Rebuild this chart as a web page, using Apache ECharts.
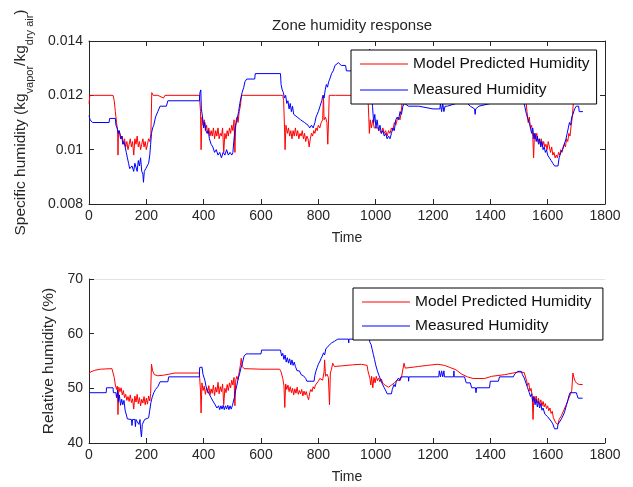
<!DOCTYPE html>
<html>
<head>
<meta charset="utf-8">
<script src="https://cdn.jsdelivr.net/npm/echarts@6/dist/echarts.min.js"></script>
<style>
html, body { margin: 0; padding: 0; background: #fff; }
#chart { width: 633px; height: 487px; }
</style>
</head>
<body>
<div id="chart"></div>
<script>
// specific humidity, model (red)
var shModelT = [0,3,20,84,88,92,96,100,101,103,108,112,116,120,124,128,132,136,140,144,148,152,156,160,164,168,172,176,180,184,188,192,196,200,204,208,212,216,219,224,240,260,265,300,385,389,391,394,398,402,406,410,414,418,422,426,430,434,438,442,446,450,454,458,462,466,470,474,478,482,486,490,494,498,502,506,509,512,516,520,524,528,532,540,600,676,679,682,684,687,692,696,700,704,708,712,716,720,724,728,732,736,740,744,748,752,756,760,764,768,772,776,780,784,788,792,796,800,805,810,815,818,820,825,830,833,836,838,860,970,974,976,978,981,985,990,995,1000,1010,1015,1020,1025,1030,1035,1040,1045,1050,1055,1060,1065,1070,1075,1080,1085,1090,1095,1100,1200,1250,1350,1450,1520,1524,1528,1532,1536,1540,1544,1548,1551,1554,1558,1562,1566,1570,1574,1578,1582,1586,1590,1594,1598,1602,1606,1610,1614,1618,1622,1626,1630,1634,1638,1642,1646,1650,1654,1658,1662,1666,1670,1674,1678,1682,1686,1690,1694,1700];
var shModelV = [0.0117,0.0120,0.0120,0.0120,0.0118,0.0114,0.0110,0.0107,0.0098,0.0107,0.0106,0.0104,0.0105,0.0102,0.0104,0.0101,0.0103,0.0100,0.0102,0.0104,0.0101,0.0103,0.0098,0.0104,0.0102,0.0105,0.0101,0.0103,0.0100,0.0102,0.0104,0.0101,0.0103,0.0100,0.0102,0.0104,0.0103,0.0106,0.0121,0.0120,0.0120,0.0119,0.0120,0.0120,0.0120,0.0114,0.0100,0.0112,0.0109,0.0111,0.0107,0.0109,0.0106,0.0108,0.0105,0.0107,0.0105,0.0108,0.0104,0.0107,0.0105,0.0108,0.0104,0.0106,0.0105,0.0108,0.0099,0.0106,0.0104,0.0107,0.0105,0.0108,0.0106,0.0109,0.0107,0.0111,0.0099,0.0110,0.0112,0.0110,0.0114,0.0116,0.0120,0.0120,0.0120,0.0120,0.0118,0.0108,0.0100,0.0109,0.0106,0.0108,0.0105,0.0107,0.0104,0.0107,0.0105,0.0108,0.0105,0.0107,0.0104,0.0106,0.0105,0.0107,0.0104,0.0106,0.0103,0.0105,0.0104,0.0101,0.0104,0.0106,0.0105,0.0107,0.0106,0.0108,0.0107,0.0109,0.0108,0.0110,0.0111,0.0120,0.0111,0.0112,0.0110,0.0102,0.0112,0.0120,0.0120,0.0120,0.0117,0.0112,0.0106,0.0111,0.0108,0.0111,0.0108,0.0108,0.0108,0.0107,0.0106,0.0108,0.0106,0.0107,0.0105,0.0107,0.0106,0.0108,0.0107,0.0110,0.0109,0.0111,0.0112,0.0111,0.0115,0.0120,0.0122,0.0123,0.0123,0.0121,0.0122,0.0122,0.0118,0.0114,0.0110,0.0112,0.0108,0.0109,0.0105,0.0097,0.0106,0.0104,0.0106,0.0103,0.0104,0.0102,0.0104,0.0101,0.0103,0.0101,0.0102,0.0100,0.0103,0.0101,0.0099,0.0101,0.0098,0.0099,0.0097,0.0098,0.0097,0.0099,0.0098,0.0100,0.0099,0.0101,0.0102,0.0101,0.0104,0.0103,0.0106,0.0105,0.0109,0.0112,0.0118,0.0122,0.0121];

// specific humidity, measured (blue)
var shMeasT = [0,4,12,70,72,92,94,98,102,106,110,114,118,122,126,130,134,138,142,150,156,160,166,168,172,176,180,184,188,190,193,198,204,208,212,215,218,222,226,232,240,248,270,275,385,387,390,392,396,400,404,408,412,416,420,426,432,438,444,450,456,462,468,474,480,486,492,498,502,505,510,514,518,522,526,530,534,540,544,550,578,580,668,670,674,678,682,686,690,694,698,702,706,710,714,720,726,732,738,744,752,758,764,770,776,782,788,792,796,800,806,812,816,820,824,828,832,836,840,846,852,858,870,880,895,898,915,925,975,979,981,985,989,993,997,1001,1005,1010,1015,1020,1025,1030,1035,1040,1045,1050,1055,1060,1065,1070,1075,1080,1085,1090,1095,1100,1115,1150,1200,1224,1226,1230,1234,1238,1242,1250,1280,1320,1330,1345,1347,1349,1360,1400,1430,1440,1500,1515,1520,1526,1532,1538,1544,1548,1552,1556,1560,1564,1568,1572,1576,1580,1584,1588,1592,1596,1600,1606,1612,1618,1624,1630,1636,1640,1646,1652,1658,1664,1668,1672,1676,1680,1684,1688,1694,1700,1708,1710,1723];
var shMeasV = [0.01125,0.0111,0.0110,0.0110,0.01115,0.01115,0.0109,0.0108,0.0106,0.0107,0.0104,0.0105,0.0102,0.0103,0.0101,0.0099,0.0097,0.0095,0.0093,0.0094,0.0092,0.0095,0.0095,0.0092,0.0096,0.0094,0.0097,0.0092,0.0091,0.0088,0.0092,0.0093,0.0093,0.0095,0.0098,0.0102,0.0106,0.0108,0.0109,0.0112,0.0114,0.0116,0.0116,0.0118,0.0118,0.0121,0.0122,0.0115,0.0112,0.0108,0.0110,0.0107,0.0106,0.0107,0.0104,0.0102,0.0101,0.0099,0.0100,0.0098,0.0099,0.0097,0.0099,0.0098,0.0100,0.0098,0.0099,0.0098,0.0099,0.0103,0.0108,0.0110,0.0112,0.0114,0.0117,0.0119,0.0121,0.0123,0.0125,0.0126,0.0126,0.0128,0.0128,0.0124,0.0122,0.0121,0.0119,0.0120,0.0117,0.0118,0.0115,0.0117,0.0114,0.0116,0.0113,0.0113,0.0112,0.0112,0.0111,0.0111,0.0110,0.0110,0.0109,0.0108,0.0109,0.0108,0.0110,0.0112,0.0113,0.0114,0.0116,0.0118,0.0120,0.0119,0.0122,0.0124,0.0123,0.0125,0.0126,0.0128,0.0129,0.0131,0.0132,0.0131,0.0131,0.0129,0.0129,0.0131,0.0131,0.0137,0.0125,0.0121,0.0116,0.0110,0.0113,0.0108,0.0111,0.0107,0.0109,0.0106,0.0107,0.0105,0.0106,0.0104,0.0105,0.0104,0.0106,0.0108,0.0107,0.0111,0.0112,0.0111,0.0114,0.0113,0.0116,0.0117,0.0116,0.0116,0.0115,0.0115,0.0117,0.0114,0.0117,0.0114,0.0116,0.0116,0.0117,0.0117,0.0116,0.0115,0.0113,0.0115,0.0116,0.0117,0.0117,0.0118,0.0118,0.0118,0.0116,0.0113,0.0111,0.0109,0.0106,0.0108,0.0104,0.0106,0.0103,0.0105,0.0102,0.0104,0.0101,0.0103,0.0100,0.0101,0.0099,0.0100,0.0098,0.0097,0.0096,0.0095,0.0094,0.00935,0.0094,0.0097,0.0099,0.0100,0.0102,0.0104,0.0106,0.0108,0.0110,0.0109,0.0112,0.0113,0.0115,0.0116,0.0116,0.0114,0.0114];

// relative humidity, model (red)
var rhModelT = [0,5,20,40,80,84,88,92,96,99,101,104,108,112,116,120,124,128,132,136,140,144,148,152,156,160,164,168,172,176,180,184,188,192,196,200,204,208,212,215,218,222,228,240,260,280,300,385,389,391,394,398,402,406,410,414,418,422,426,430,434,438,442,446,450,454,458,462,466,470,474,478,482,486,490,494,498,502,506,509,512,516,520,524,528,531,535,541,600,665,670,676,680,683,686,690,694,698,702,706,710,714,718,722,726,730,734,738,742,746,750,754,758,762,766,770,774,778,782,786,790,795,800,805,810,815,820,822,825,830,835,839,842,846,850,856,862,880,920,950,970,973,976,980,983,986,990,994,998,1002,1006,1010,1015,1020,1025,1030,1035,1040,1045,1050,1055,1060,1065,1070,1075,1080,1085,1090,1095,1099,1103,1120,1150,1180,1217,1240,1260,1280,1300,1320,1340,1380,1405,1450,1500,1518,1522,1526,1530,1534,1538,1542,1546,1549,1552,1556,1560,1564,1568,1572,1576,1580,1584,1588,1592,1596,1600,1604,1608,1612,1616,1620,1624,1628,1632,1636,1640,1644,1648,1652,1656,1660,1664,1668,1672,1676,1680,1684,1688,1692,1696,1702,1710,1722];
var rhModelV = [52.6,53.0,53.3,53.5,53.6,53.3,52.0,50.6,49.8,50.4,45.2,50.2,49.4,50.1,48.8,49.6,48.3,48.9,47.8,48.5,47.6,48.8,47.4,48.1,46.2,48.6,47.5,48.9,47.2,48.3,46.8,48.0,47.3,48.5,47.0,48.2,47.1,48.6,47.7,49.0,54.4,53.2,52.5,52.3,52.4,52.6,52.8,52.8,49.5,45.5,51.0,49.6,50.4,48.9,50.1,49.2,50.5,48.8,49.9,49.1,50.6,48.7,50.2,49.3,51.1,49.0,50.3,49.4,50.8,47.0,50.0,49.2,50.7,49.6,51.0,50.1,51.5,50.6,52.0,46.8,51.5,52.2,51.6,53.0,54.2,55.5,54.0,53.6,53.5,53.5,53.0,51.8,50.5,46.5,50.8,49.8,50.6,49.4,50.3,49.2,50.0,48.8,49.9,49.1,50.2,48.9,49.6,49.0,49.8,48.6,49.5,48.8,49.4,48.5,47.9,49.2,49.8,49.4,50.3,49.9,50.6,50.9,51.3,51.8,52.0,51.5,53.0,55.2,52.2,52.6,52.0,47.0,52.8,53.5,54.6,54.0,54.0,54.1,54.3,54.4,54.2,53.2,52.6,51.8,50.6,52.2,50.1,52.0,51.0,52.2,51.4,51.9,51.2,51.7,50.9,51.2,50.5,50.8,50.2,50.0,50.6,50.3,51.0,50.7,51.5,51.8,51.4,52.0,52.0,54.6,53.7,53.8,54.0,54.2,54.4,54.2,53.8,53.4,52.6,52.1,51.8,51.8,52.2,52.5,53.0,52.9,52.6,51.5,50.5,51.0,49.5,50.0,48.7,44.3,48.6,47.7,48.6,47.3,48.2,47.0,47.9,46.8,47.6,46.6,47.2,46.3,46.8,45.9,46.4,45.4,45.8,44.6,44.9,43.7,44.0,43.4,44.3,44.0,45.0,44.8,46.0,46.0,46.9,47.1,48.0,48.3,49.0,49.6,52.8,51.9,51.3,50.9,50.7,50.7];

// relative humidity, measured (blue)
var rhMeasT = [0,60,61,84,85,94,96,100,103,106,110,114,118,122,126,130,134,140,148,150,152,160,162,164,170,174,178,180,183,186,190,194,208,212,216,220,226,232,240,248,275,278,385,386,394,398,404,408,414,420,426,432,440,446,452,456,460,464,468,472,476,480,484,488,492,496,500,504,507,511,516,520,525,530,535,541,548,556,600,602,668,672,676,680,684,688,692,696,700,704,708,712,716,720,726,734,740,748,756,760,785,788,792,796,800,806,810,814,818,822,826,830,834,840,846,852,856,868,905,906,907,978,980,984,988,992,996,1000,1006,1012,1018,1024,1030,1036,1040,1055,1058,1064,1068,1072,1076,1080,1084,1088,1095,1114,1115,1116,1220,1222,1226,1230,1234,1238,1240,1272,1273,1274,1310,1316,1330,1335,1348,1350,1352,1397,1400,1428,1432,1480,1485,1495,1508,1512,1518,1524,1530,1536,1540,1544,1548,1552,1556,1560,1564,1568,1572,1576,1580,1584,1590,1596,1600,1606,1612,1618,1624,1630,1634,1636,1642,1648,1652,1658,1662,1666,1670,1674,1678,1700,1706,1722];
var rhMeasV = [49.2,49.2,50.1,50.1,49.2,49.2,48.3,49.6,47.5,48.8,46.9,48.0,47.0,47.8,46.0,45.9,44.4,44.3,44.3,43.2,44.3,44.3,43.0,44.3,44.3,43.4,44.3,42.5,41.1,43.4,43.4,44.3,44.6,46.0,47.4,48.3,49.2,49.8,50.3,51.2,51.2,52.1,52.1,53.8,53.9,52.5,51.5,50.4,49.5,48.9,48.3,47.7,47.0,46.4,46.8,46.1,46.8,46.2,46.9,46.1,46.8,46.2,46.9,46.1,46.8,46.2,46.8,46.8,48.3,49.5,50.6,51.7,52.6,53.7,54.6,55.9,56.3,56.3,56.3,57.0,57.0,55.9,56.4,55.3,56.1,54.8,55.6,54.6,55.4,54.3,55.2,54.2,54.8,54.0,53.2,53.2,52.5,52.3,51.8,51.3,51.3,52.4,53.2,53.8,54.4,55.0,55.5,55.9,56.5,56.1,57.2,57.0,57.7,58.0,58.3,58.3,58.6,59.0,59.0,58.3,59.0,59.0,58.4,58.0,57.1,56.2,55.3,54.3,53.2,52.3,51.5,50.7,50.1,49.5,49.0,49.0,49.8,50.7,50.3,51.3,51.0,51.9,51.5,52.1,52.1,52.1,51.3,52.1,52.1,53.2,52.1,53.2,52.1,53.2,52.1,52.1,53.2,52.1,52.1,51.0,51.0,50.1,50.1,49.2,50.1,50.1,51.3,51.3,52.1,52.1,52.6,53.1,53.1,52.5,51.9,51.0,50.1,49.2,48.5,49.0,47.6,48.4,47.0,48.0,46.6,47.6,46.4,47.2,46.0,46.4,45.3,45.5,44.8,44.5,44.0,43.5,42.6,42.5,42.6,43.4,43.5,44.4,44.6,45.5,45.8,47.0,47.7,48.6,49.2,49.2,48.2,48.2];

var xTicks = [0, 1800, 200];       // min, max, interval
var shTicks = [0.008, 0.014, 0.002];
var rhTicks = [40, 70, 10];

function pairs(t, v) {
    return t.map(function (x, i) { return [x, v[i]]; });
}

var font = 'Liberation Sans, Arial, sans-serif';
var ink = '#262626';

function plain(v) {
    return String(+v.toFixed(6));
}

function xAxisCfg(grid, pos, labels, lineColor, ticks) {
    return {
        type: 'value', gridIndex: grid, position: pos,
        min: xTicks[0], max: xTicks[1], interval: xTicks[2],
        name: labels ? 'Time' : '', nameLocation: 'middle', nameGap: 27,
        nameTextStyle: { color: ink, fontSize: 14, fontFamily: font },
        axisLine: { show: true, onZero: false, lineStyle: { color: lineColor, width: 1 } },
        axisTick: { show: ticks, inside: true, length: 5, lineStyle: { color: ink } },
        axisLabel: { show: labels, color: ink, fontSize: 14, fontFamily: font, margin: 5, formatter: plain },
        splitLine: { show: false }
    };
}

function yAxisCfg(grid, pos, labels, ticks, rng, name, gap, rich) {
    return {
        type: 'value', gridIndex: grid, position: pos,
        min: rng[0], max: rng[1], interval: rng[2],
        name: name, nameLocation: 'middle', nameGap: gap, nameRotate: 90,
        nameTextStyle: { color: ink, fontSize: 15.5, fontFamily: font, rich: rich },
        axisLine: { show: true, onZero: false, lineStyle: { color: ink, width: 1 } },
        axisTick: { show: ticks, inside: true, length: 5, lineStyle: { color: ink } },
        axisLabel: { show: labels, color: ink, fontSize: 14, fontFamily: font, margin: 6, formatter: plain },
        splitLine: { show: false }
    };
}

var subRich = {
    m: { fontSize: 15.5, fontFamily: font, color: ink, lineHeight: 22, verticalAlign: 'top' },
    s: { fontSize: 11, fontFamily: font, color: ink, lineHeight: 22, verticalAlign: 'bottom' }
};

function legendCfg(left, top, gap, names) {
    return {
        orient: 'vertical', left: left, top: top,
        data: names, icon: 'rect',
        backgroundColor: '#fff', borderColor: '#000', borderWidth: 1,
        padding: [6, 7, 6, 9], itemGap: gap, itemWidth: 48, itemHeight: 1,
        textStyle: { color: '#111', fontSize: 15.5, fontFamily: font, lineHeight: 14 },
        z: 10
    };
}

var chart = echarts.init(document.getElementById('chart'));

chart.setOption({
    animation: false,
    backgroundColor: '#fff',
    title: {
        text: 'Zone humidity response', left: 347, top: 13, textAlign: 'center',
        textStyle: { color: ink, fontSize: 15, fontWeight: 'normal', fontFamily: font }
    },
    legend: [
        legendCfg(351, 50, 10, ['Model Predicted Humidity', 'Measured Humidity']),
        legendCfg(353, 288, 8, ['Model Predicted Humidity ', 'Measured Humidity '])
    ],
    grid: [
        { left: 89, top: 41, width: 516, height: 163 },
        { left: 89, top: 279, width: 516, height: 164 }
    ],
    xAxis: [
        xAxisCfg(0, 'bottom', true, ink, true),
        xAxisCfg(0, 'top', false, ink, true),
        xAxisCfg(1, 'bottom', true, ink, true),
        xAxisCfg(1, 'top', false, '#e3e3e3', false)
    ],
    yAxis: [
        yAxisCfg(0, 'left', true, true, shTicks,
            '{m|Specific humidity (kg}{s|vapor}{m|/kg}{s|dry air}{m|)}', 54, subRich),
        yAxisCfg(0, 'right', false, true, shTicks, '', 0, null),
        yAxisCfg(1, 'left', true, true, rhTicks, 'Relative humidity (%)', 30, null)
    ],
    series: [
        { name: 'Model Predicted Humidity', type: 'line', xAxisIndex: 0, yAxisIndex: 0,
          data: pairs(shModelT, shModelV), symbol: 'none', lineStyle: { color: '#ff0000', width: 1 }, itemStyle: { color: '#ff0000' } },
        { name: 'Measured Humidity', type: 'line', xAxisIndex: 0, yAxisIndex: 0,
          data: pairs(shMeasT, shMeasV), symbol: 'none', lineStyle: { color: '#0000ff', width: 1 }, itemStyle: { color: '#0000ff' } },
        { name: 'Model Predicted Humidity ', type: 'line', xAxisIndex: 2, yAxisIndex: 2,
          data: pairs(rhModelT, rhModelV), symbol: 'none', lineStyle: { color: '#ff0000', width: 1 }, itemStyle: { color: '#ff0000' } },
        { name: 'Measured Humidity ', type: 'line', xAxisIndex: 2, yAxisIndex: 2,
          data: pairs(rhMeasT, rhMeasV), symbol: 'none', lineStyle: { color: '#0000ff', width: 1 }, itemStyle: { color: '#0000ff' } }
    ]
});
</script>
</body>
</html>
